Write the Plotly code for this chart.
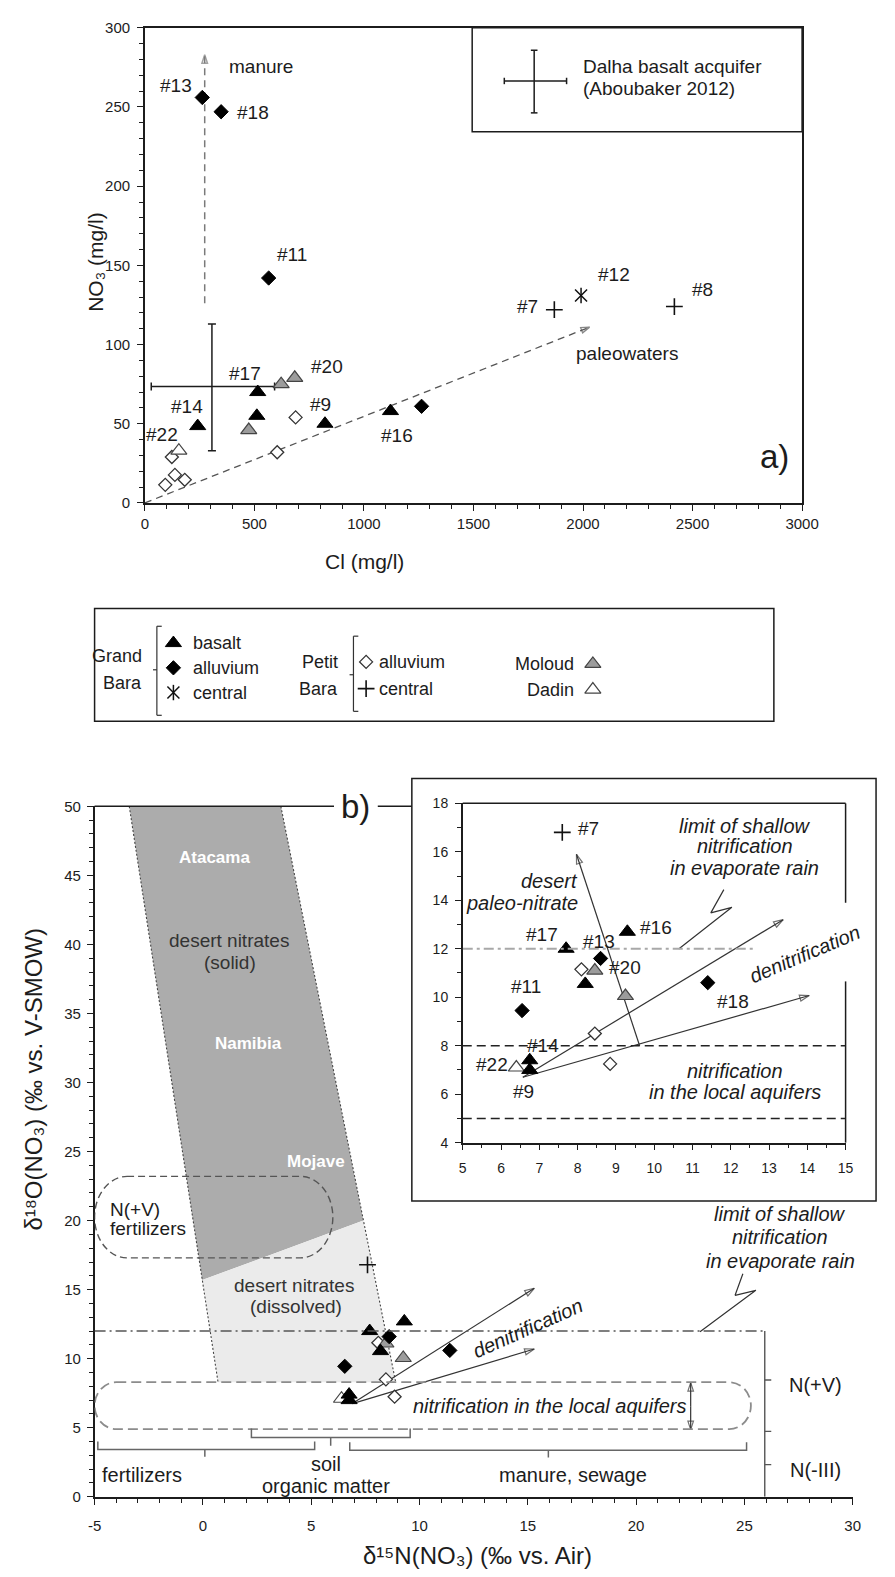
import plotly.graph_objects as go

W, H = 895, 1577
FONT = "Liberation Sans, Arial, Helvetica, DejaVu Sans, sans-serif"
INK = "#1c1c1c"

# ======================= DATA =======================
# ---- panel a) NO3 (mg/l) vs Cl (mg/l) ----
gb_basalt_cl = [515, 511, 241, 822, 1121]
gb_basalt_no3 = [70, 55, 48.5, 50, 58]
gb_basalt_id_a = ["#17", "", "#14", "#9", "#16"]

gb_alluvium_cl = [262, 348, 565, 1263]
gb_alluvium_no3 = [256, 247, 142, 61]
gb_alluvium_id_a = ["#13", "#18", "#11", ""]

gb_central_cl = [1991]
gb_central_no3 = [131]
gb_central_id_a = ["#12"]

pb_alluvium_cl = [688, 604, 123, 137, 182, 93]
pb_alluvium_no3 = [54, 32, 29, 17.7, 14.6, 11.4]
pb_alluvium_id_a = ["", "", "", "", "", ""]

pb_central_cl = [1869, 2417]
pb_central_no3 = [122, 124]
pb_central_id_a = ["#7", "#8"]

moloud_cl = [622, 684, 474]
moloud_no3 = [75, 79, 46]
moloud_id_a = ["", "#20", ""]

dadin_cl = [155]
dadin_no3 = [33]
dadin_id_a = ["#22"]

# Dalha basalt aquifer (Aboubaker 2012): mean and range
dalha_cl = [306]
dalha_cl_min, dalha_cl_max = 29, 592
dalha_no3 = [73.5]
dalha_no3_min, dalha_no3_max = 33, 113

# trend arrows of panel a)
manure_cl = [273, 273]
manure_no3 = [126, 283]
paleo_cl = [0, 2030]
paleo_no3 = [0, 111]

a_cl_ticks = [0, 500, 1000, 1500, 2000, 2500, 3000]
a_no3_ticks = [0, 50, 100, 150, 200, 250, 300]

# ---- panel b) d18O(NO3) vs d15N(NO3) ----
gb_basalt_d15n = [7.7, 9.3, 8.2, 6.75, 6.75]
gb_basalt_d18o = [12.0, 12.7, 10.55, 7.4, 7.0]
gb_basalt_id_b = ["#17", "#16", "", "#14", "#9"]

gb_alluvium_d15n = [8.6, 6.55, 11.4]
gb_alluvium_d18o = [11.6, 9.45, 10.6]
gb_alluvium_id_b = ["#13", "#11", "#18"]

pb_alluvium_d15n = [8.1, 8.45, 8.85]
pb_alluvium_d18o = [11.15, 8.5, 7.25]
pb_alluvium_id_b = ["", "", ""]

pb_central_d15n = [7.6]
pb_central_d18o = [16.8]
pb_central_id_b = ["#7"]

moloud_d15n = [8.45, 9.25]
moloud_d18o = [11.1, 10.05]
moloud_id_b = ["", "#20"]

dadin_d15n = [6.4]
dadin_d18o = [7.1]
dadin_id_b = ["#22"]

b_d15n_ticks = [-5, 0, 5, 10, 15, 20, 25, 30]
b_d15n_ticklabels = ["-5", "0", "5", "10", "15", "20", "25", "30"]
b_d18o_ticks = [0, 5, 10, 15, 20, 25, 30, 35, 40, 45, 50]
inset_d15n_ticks = [5, 6, 7, 8, 9, 10, 11, 12, 13, 14, 15]
inset_d18o_ticks = [4, 6, 8, 10, 12, 14, 16, 18]

# desert nitrate field (outline corners, d15N / d18O)
band_left_d15n = [-3.4, 0.7]
band_left_d18o = [50, 8.3]
band_right_d15n = [3.6, 8.9]
band_right_d18o = [50, 8.3]
solid_dissolved_d15n = [-0.03, 7.41]
solid_dissolved_d18o = [15.7, 20.0]

# source boxes and limits
fert_box_d15n = [-5, 6]
fert_box_d18o = [17.3, 23.2]
nitr_box_d15n = [-5, 25.3]
nitr_box_d18o = [4.9, 8.3]
limit_shallow_d18o = 12
scale_bar_d15n = 25.94
scale_ticks_d18o = [8.46, 4.74, 2.33]
inset_lines_d18o = [8, 5]
nitr_range_d15n = 22.52
nitr_range_d18o = [4.86, 8.27]

# trend arrows of panel b)  (start, end)
denit_main = [((6.9, 6.75), (15.3, 15.1)), ((6.9, 6.75), (15.3, 10.7))]
denit_inset = [((6.57, 6.7), (13.37, 13.2)), ((6.57, 6.7), (14.05, 10.07))]
paleo_inset = ((9.62, 8.0), (7.97, 15.9))
lightning_main_d15n = [24.93, 24.57, 25.53, 22.95]
lightning_main_d18o = [16.15, 14.59, 14.95, 11.95]
lightning_inset_d15n = [11.82, 11.48, 12.03, 10.64]
lightning_inset_d18o = [14.44, 13.48, 13.71, 11.99]

# brackets: (x_left, x_right, y_bar, y_ends, x_mid, y_mid)
brackets = [(-4.85, 5.16, 3.43, 4.0, 0.09, 2.9),
            (2.24, 9.57, 4.3, 4.95, 5.9, 3.7),
            (6.78, 25.1, 3.37, 3.95, 15.95, 2.85)]

# ======================= STYLES =======================
ST = {
    "gb_basalt": dict(symbol="triangle-up", size=14, color="black", line=dict(color="black", width=1)),
    "gb_alluvium": dict(symbol="diamond", size=11, color="black", line=dict(color="black", width=1)),
    "pb_alluvium": dict(symbol="diamond", size=10, color="white", line=dict(color="#333", width=1.3)),
    "moloud": dict(symbol="triangle-up", size=14, color="#9c9c9c", line=dict(color="#444", width=1.2)),
    "dadin": dict(symbol="triangle-up", size=14, color="white", line=dict(color="#444", width=1.2)),
    "pb_central": dict(symbol="cross-thin-open", size=12, color="#111", line=dict(color="#111", width=1.6)),
    "gb_central_x": dict(symbol="x-thin-open", size=12, color="#111", line=dict(color="#111", width=1.5)),
    "gb_central_l": dict(symbol="line-ns-open", size=11, color="#111", line=dict(color="#111", width=1.5)),
}
LBL = 19      # sample labels / plain texts
LEG = 18      # legend texts
ITL = 20      # italic process texts


def px(x):
    return x / W


def py(y):
    return 1 - y / H


fig = go.Figure()


def add_pts(x, y, style, xa, ya):
    fig.add_trace(go.Scatter(x=x, y=y, mode="markers", marker=ST[style],
                             xaxis=xa, yaxis=ya, hoverinfo="skip", showlegend=False, cliponaxis=False))


def add_line(x, y, xa, ya, color, width, dash=None):
    fig.add_trace(go.Scatter(x=x, y=y, mode="lines", line=dict(color=color, width=width, dash=dash),
                             xaxis=xa, yaxis=ya, showlegend=False, hoverinfo="skip", cliponaxis=False))


def add_arrow(x, y, xa, ya, color="#333", width=1.2, dash=None, size=10):
    fig.add_trace(go.Scatter(
        x=x, y=y, mode="lines+markers", line=dict(color=color, width=width, dash=dash),
        marker=dict(symbol="arrow-open", size=[0] * (len(x) - 1) + [size], angleref="previous",
                    color=color, line=dict(color=color, width=width)),
        xaxis=xa, yaxis=ya, showlegend=False, hoverinfo="skip", cliponaxis=False))


# ---------------- panel a) ----------------
fig.add_trace(go.Scatter(
    x=dalha_cl, y=dalha_no3, mode="markers", marker=dict(size=1, color="rgba(0,0,0,0)"),
    error_x=dict(type="data", symmetric=False, array=[dalha_cl_max - dalha_cl[0]],
                 arrayminus=[dalha_cl[0] - dalha_cl_min], color=INK, thickness=1.5, width=4),
    error_y=dict(type="data", symmetric=False, array=[dalha_no3_max - dalha_no3[0]],
                 arrayminus=[dalha_no3[0] - dalha_no3_min], color=INK, thickness=1.5, width=4),
    xaxis="x", yaxis="y", showlegend=False, hoverinfo="skip"))

add_arrow(manure_cl, manure_no3, "x", "y", "#7a7a7a", 1.5, "7px,5px", 9)
add_arrow(paleo_cl, paleo_no3, "x", "y", "#555", 1.3, "7px,5px", 9)

series_a = [
    (pb_alluvium_cl, pb_alluvium_no3, "pb_alluvium", pb_alluvium_id_a),
    (dadin_cl, dadin_no3, "dadin", dadin_id_a),
    (moloud_cl, moloud_no3, "moloud", moloud_id_a),
    (gb_basalt_cl, gb_basalt_no3, "gb_basalt", gb_basalt_id_a),
    (gb_alluvium_cl, gb_alluvium_no3, "gb_alluvium", gb_alluvium_id_a),
    (pb_central_cl, pb_central_no3, "pb_central", pb_central_id_a),
    (gb_central_cl, gb_central_no3, "gb_central_x", gb_central_id_a),
    (gb_central_cl, gb_central_no3, "gb_central_l", [""]),
]
for xs, ys, st, _ in series_a:
    add_pts(xs, ys, st, "x", "y")

# ---------------- panel b) main ----------------
dark_x = [band_left_d15n[0], solid_dissolved_d15n[0], solid_dissolved_d15n[1], band_right_d15n[0]]
dark_y = [band_left_d18o[0], solid_dissolved_d18o[0], solid_dissolved_d18o[1], band_right_d18o[0]]
fig.add_trace(go.Scatter(x=dark_x, y=dark_y, fill="toself", fillcolor="#acacac", mode="none",
                         xaxis="x2", yaxis="y2", showlegend=False, hoverinfo="skip"))
light_x = [solid_dissolved_d15n[0], solid_dissolved_d15n[1], band_right_d15n[1], band_left_d15n[1]]
light_y = [solid_dissolved_d18o[0], solid_dissolved_d18o[1], band_right_d18o[1], band_left_d18o[1]]
fig.add_trace(go.Scatter(x=light_x, y=light_y, fill="toself", fillcolor="#ebebeb", mode="none",
                         xaxis="x2", yaxis="y2", showlegend=False, hoverinfo="skip"))
for ex, ey in [(band_left_d15n, band_left_d18o), (band_right_d15n, band_right_d18o)]:
    add_line(ex, ey, "x2", "y2", "#444", 1.1, "2px,2px")

# lightning leader lines
add_line(lightning_main_d15n, lightning_main_d18o, "x2", "y2", "#333", 1.2)
add_line(lightning_inset_d15n, lightning_inset_d18o, "x3", "y3", "#333", 1.2)

# arrows panel b)
for st_, en_ in denit_main:
    add_arrow([st_[0], en_[0]], [st_[1], en_[1]], "x2", "y2")
mid = (nitr_range_d18o[0] + nitr_range_d18o[1]) / 2
for end in nitr_range_d18o:
    add_arrow([nitr_range_d15n, nitr_range_d15n], [mid, end], "x2", "y2", size=9)
for st_, en_ in denit_inset:
    add_arrow([st_[0], en_[0]], [st_[1], en_[1]], "x3", "y3")
add_arrow([paleo_inset[0][0], paleo_inset[1][0]], [paleo_inset[0][1], paleo_inset[1][1]], "x3", "y3")

series_b = [
    (pb_alluvium_d15n, pb_alluvium_d18o, "pb_alluvium", pb_alluvium_id_b),
    (dadin_d15n, dadin_d18o, "dadin", dadin_id_b),
    (moloud_d15n, moloud_d18o, "moloud", moloud_id_b),
    (gb_basalt_d15n, gb_basalt_d18o, "gb_basalt", gb_basalt_id_b),
    (gb_alluvium_d15n, gb_alluvium_d18o, "gb_alluvium", gb_alluvium_id_b),
    (pb_central_d15n, pb_central_d18o, "pb_central", pb_central_id_b),
]
for xs, ys, st, _ in series_b:
    add_pts(xs, ys, st, "x2", "y2")
    add_pts(xs, ys, st, "x3", "y3")

# ---------------- legend glyphs (pixel axis x4/y4) ----------------
legend_items = [
    ("gb_basalt", 171, 641), ("gb_alluvium", 171, 666), ("gb_central_x", 171, 691),
    ("gb_central_l", 171, 691), ("pb_alluvium", 369, 660), ("pb_central", 369, 687),
    ("moloud", 602, 662), ("dadin", 602, 688),
]
for st, lx, ly in legend_items:
    add_pts([lx], [ly], st, "x4", "y4")

# ======================= SHAPES =======================
shapes = []


def pline(x0, y0, x1, y1, color=INK, width=1.5, dash=None):
    shapes.append(dict(type="line", xref="paper", yref="paper", x0=px(x0), y0=py(y0), x1=px(x1), y1=py(y1),
                       line=dict(color=color, width=width, dash=dash), layer="above"))


def dline(x0, y0, x1, y1, xr, yr, color=INK, width=1.5, dash=None):
    shapes.append(dict(type="line", xref=xr, yref=yr, x0=x0, y0=y0, x1=x1, y1=y1,
                       line=dict(color=color, width=width, dash=dash), layer="above"))


def pill(xr, yr, xs, ys, rx, ry, color, width, dash):
    x0, x1 = xs
    y0, y1 = ys
    k = 0.5523
    p = (f"M{x0 + rx},{y1} L{x1 - rx},{y1} "
         f"C{x1 - rx + k * rx},{y1} {x1},{y1 - ry + k * ry} {x1},{y1 - ry} "
         f"L{x1},{y0 + ry} "
         f"C{x1},{y0 + ry - k * ry} {x1 - rx + k * rx},{y0} {x1 - rx},{y0} "
         f"L{x0 + rx},{y0} "
         f"C{x0 + rx - k * rx},{y0} {x0},{y0 + ry - k * ry} {x0},{y0 + ry} "
         f"L{x0},{y1 - ry} "
         f"C{x0},{y1 - ry + k * ry} {x0 + rx - k * rx},{y1} {x0 + rx},{y1} Z")
    shapes.append(dict(type="path", xref=xr, yref=yr, path=p, line=dict(color=color, width=width, dash=dash),
                       layer="above"))


# panel a) legend box (Dalha)
shapes.append(dict(type="rect", xref="paper", yref="paper", x0=px(478), y0=py(124), x1=px(817), y1=py(19),
                   line=dict(color=INK, width=1.5), fillcolor="white", layer="above"))
pline(511, 72.7, 575, 72.7)
pline(511, 69.5, 511, 76)
pline(575, 69.5, 575, 76)
pline(541.7, 41.7, 541.7, 105)
pline(538.3, 41.7, 545.1, 41.7)
pline(538.3, 105, 545.1, 105)

# symbol legend box
shapes.append(dict(type="rect", xref="paper", yref="paper", x0=px(90), y0=py(720), x1=px(788), y1=py(606),
                   line=dict(color=INK, width=1.5), layer="above"))
for bx, t, b, m in [(154, 624, 714, 668), (356, 634, 710, 673)]:
    pline(bx, t, bx, b, "#333", 1.2)
    pline(bx, t, bx + 5, t, "#333", 1.2)
    pline(bx, b, bx + 5, b, "#333", 1.2)
    pline(bx - 4, m, bx, m, "#333", 1.2)

# panel b) frame pieces
pline(90, 806, 336, 806)
pline(381, 806, 416, 806)
shapes.append(dict(type="rect", xref="paper", yref="paper", x0=px(416), y0=py(1205), x1=px(893), y1=py(778),
                   line=dict(color=INK, width=1.5), fillcolor="white", layer="below"))
pline(468.3, 803, 861.7, 803)
pline(861.7, 803, 861.7, 903.5)
pline(861.7, 983, 861.7, 1146)

# source pills
pill("x2", "y2", fert_box_d15n, fert_box_d18o, 1.5, 2.95, "#555", 1.4, "7px,4px")
pill("x2", "y2", nitr_box_d15n, nitr_box_d18o, 1.0, 1.7, "#8c8c8c", 1.8, "10px,5px")

# limit of shallow nitrification (main) and N scale bar
dline(-5, limit_shallow_d18o, scale_bar_d15n, limit_shallow_d18o, "x2", "y2", "#555", 1.4, "11px,4px,2px,4px")
dline(scale_bar_d15n, 0, scale_bar_d15n, limit_shallow_d18o, "x2", "y2", "#555", 1.4)
for tv in scale_ticks_d18o:
    dline(scale_bar_d15n, tv, scale_bar_d15n + 0.3, tv, "x2", "y2", "#555", 1.4)

# brackets of sources
for xl, xr_, yb, ye, xm, ym in brackets:
    p = f"M{xl},{ye} L{xl},{yb} L{xr_},{yb} L{xr_},{ye} M{xm},{yb} L{xm},{ym}"
    shapes.append(dict(type="path", xref="x2", yref="y2", path=p, line=dict(color="#666", width=1.5),
                       layer="above"))

# inset lines
dline(5, limit_shallow_d18o, 12.58, limit_shallow_d18o, "x3", "y3", "#a8a8a8", 2, "10px,4px,3px,4px")
for lv in inset_lines_d18o:
    dline(5, lv, 15, lv, "x3", "y3", "#222", 1.5, "9px,5px")

# ======================= ANNOTATIONS =======================
ann = []


def ptxt(x, y, s, size=LBL, color=INK, xanchor="center", angle=0, **kw):
    ann.append(dict(x=px(x), y=py(y), xref="paper", yref="paper", text=s, showarrow=False,
                    font=dict(family=FONT, size=size, color=color), xanchor=xanchor, yanchor="middle",
                    textangle=angle, **kw))


def dtxt(x, y, s, xr, yr, size=LBL, color=INK, xanchor="center", angle=0, **kw):
    ann.append(dict(x=x, y=y, xref=xr, yref=yr, text=s, showarrow=False,
                    font=dict(family=FONT, size=size, color=color), xanchor=xanchor, yanchor="middle",
                    textangle=angle, **kw))


# panel a) labels (pixel offsets from their points)
off_a = {"#13": (-26, 12), "#18": (32, -1), "#11": (23, 24), "#17": (-13, 19), "#20": (32, 11),
         "#14": (-11, 20), "#9": (-4, 19), "#22": (-17, 16), "#16": (7, -24), "#7": (-27, 3),
         "#12": (33, 21), "#8": (28, 17)}
for xs, ys, st, ids in series_a:
    for xv, yv, lab in zip(xs, ys, ids):
        if lab:
            dx, dy = off_a[lab]
            dtxt(xv, yv, lab, "x", "y", LBL, xshift=dx, yshift=dy)

off_b = {"#7": (26, 4), "#17": (-24, 14), "#13": (-2, 17), "#16": (29, 4), "#20": (0, 29),
         "#11": (4, 24), "#18": (25, -19), "#14": (13, 15), "#22": (-24, 3), "#9": (-6, -22)}
for xs, ys, st, ids in series_b:
    for xv, yv, lab in zip(xs, ys, ids):
        if lab:
            dx, dy = off_b[lab]
            dtxt(xv, yv, lab, "x3", "y3", LBL, xshift=dx, yshift=dy)

# panel a) texts
ptxt(261, 58, "manure")
ptxt(637, 348.3, "paleowaters")
ptxt(590, 58, "Dalha basalt acquifer", xanchor="left")
ptxt(590, 80, "(Aboubaker 2012)", xanchor="left")
ptxt(789, 452, "a)", 33)
ptxt(367, 559, "Cl (mg/l)", 21)
ptxt(91, 256, "NO₃ (mg/l)", 21, angle=-90)

# symbol legend texts
ptxt(141, 654, "Grand", LEG, xanchor="right")
ptxt(141, 681, "Bara", LEG, xanchor="right")
ptxt(189, 641, "basalt", LEG, xanchor="left")
ptxt(189, 666, "alluvium", LEG, xanchor="left")
ptxt(189, 691, "central", LEG, xanchor="left")
ptxt(342, 660, "Petit", LEG, xanchor="right")
ptxt(342, 687, "Bara", LEG, xanchor="right")
ptxt(380, 660, "alluvium", LEG, xanchor="left")
ptxt(380, 687, "central", LEG, xanchor="left")
ptxt(585, 662, "Moloud", LEG, xanchor="right")
ptxt(585, 688, "Dadin", LEG, xanchor="right")

# panel b) texts
ptxt(358, 806, "b)", 33, bgcolor="white")
ptxt(483, 1563, "δ¹⁵N(NO₃) (‰ vs. Air)", 24)
ptxt(27, 1082, "δ¹⁸O(NO₃) (‰ vs. V-SMOW)", 24, angle=-90)

dtxt(0.54, 46.3, "<b>Atacama</b>", "x2", "y2", 17, "white")
dtxt(1.2, 40.3, "desert nitrates", "x2", "y2", LBL, "#333")
dtxt(1.25, 38.7, "(solid)", "x2", "y2", LBL, "#333")
dtxt(2.1, 32.8, "<b>Namibia</b>", "x2", "y2", 17, "white")
dtxt(5.22, 24.3, "<b>Mojave</b>", "x2", "y2", 17, "white")
dtxt(4.2, 15.3, "desert nitrates", "x2", "y2", LBL, "#333")
dtxt(4.3, 13.75, "(dissolved)", "x2", "y2", LBL, "#333")
dtxt(-4.4, 20.8, "N(+V)", "x2", "y2", LBL, xanchor="left")
dtxt(-4.4, 19.4, "fertilizers", "x2", "y2", LBL, xanchor="left")
for yv, s in [(20.5, "limit of shallow"), (18.8, "nitrification"), (17.1, "in evaporate rain")]:
    dtxt(26.65, yv, f"<i>{s}</i>", "x2", "y2", ITL)
dtxt(15.02, 12.19, "<i>denitrification</i>", "x2", "y2", ITL, angle=-24)
dtxt(16.02, 6.54, "<i>nitrification in the local aquifers</i>", "x2", "y2", ITL)
dtxt(-2.83, 1.61, "fertilizers", "x2", "y2", 20)
dtxt(5.68, 2.4, "soil", "x2", "y2", 20)
dtxt(5.68, 0.77, "organic matter", "x2", "y2", 20)
dtxt(17.1, 1.61, "manure, sewage", "x2", "y2", 20)
dtxt(28.3, 8.1, "N(+V)", "x2", "y2", 20)
dtxt(28.3, 1.97, "N(-III)", "x2", "y2", 20)

# inset texts
for yv, s in [(17.07, "limit of shallow"), (16.23, "nitrification"), (15.35, "in evaporate rain")]:
    dtxt(12.37, yv, f"<i>{s}</i>", "x3", "y3", ITL)
dtxt(8.05, 14.8, "<i>desert</i>", "x3", "y3", ITL, xanchor="right")
dtxt(8.05, 13.9, "<i>paleo-nitrate</i>", "x3", "y3", ITL, xanchor="right")
dtxt(13.94, 11.77, "<i>denitrification</i>", "x3", "y3", ITL, angle=-23)
dtxt(12.12, 6.97, "<i>nitrification</i>", "x3", "y3", ITL)
dtxt(12.12, 6.09, "<i>in the local aquifers</i>", "x3", "y3", ITL)


# ======================= AXES =======================
def axis(**kw):
    d = dict(showgrid=False, zeroline=False, showline=True, linecolor=INK, linewidth=1.5,
             ticks="outside", ticklen=6, tickwidth=1.3, tickcolor=INK, tickmode="array",
             tickfont=dict(family=FONT, size=15, color=INK), layer="above traces")
    d.update(kw)
    return d


def minor(dt, t0, ln=4):
    return dict(dtick=dt, tick0=t0, ticks="outside", ticklen=ln, tickwidth=1, tickcolor=INK)


fig.update_layout(
    width=W, height=H, margin=dict(l=0, r=0, t=0, b=0),
    paper_bgcolor="white", plot_bgcolor="rgba(0,0,0,0)", showlegend=False,
    font=dict(family=FONT, color=INK),
    xaxis=axis(domain=[px(141.7), px(817)], range=[0, 3000], tickvals=a_cl_ticks, minor=minor(100, 0),
               mirror=True, anchor="y"),
    yaxis=axis(domain=[py(499.3), py(19)], range=[0, 300], tickvals=a_no3_ticks, minor=minor(10, 0),
               mirror=True, anchor="x", ticklabelstandoff=4),
    xaxis2=axis(domain=[px(90), px(869)], range=[-5, 30], tickvals=b_d15n_ticks, ticktext=b_d15n_ticklabels,
                minor=minor(1, -5), anchor="y2", ticklabelstandoff=8),
    yaxis2=axis(domain=[py(1504), py(806)], range=[0, 50], tickvals=b_d18o_ticks,
                minor=minor(1, 0), anchor="x2", ticklabelstandoff=3),
    xaxis3=axis(domain=[px(468.3), px(861.7)], range=[5, 15], tickvals=inset_d15n_ticks, minor=minor(0.5, 5),
                anchor="y3", ticklabelstandoff=6, tickfont=dict(family=FONT, size=14, color=INK)),
    yaxis3=axis(domain=[py(1146), py(803)], range=[4, 18], tickvals=inset_d18o_ticks, minor=minor(1, 4),
                anchor="x3", ticklabelstandoff=4, tickfont=dict(family=FONT, size=14, color=INK)),
    xaxis4=dict(domain=[0, 1], range=[0, W], visible=False, anchor="y4", fixedrange=True),
    yaxis4=dict(domain=[0, 1], range=[H, 0], visible=False, anchor="x4", fixedrange=True),
    shapes=shapes, annotations=ann,
)

fig.write_html("out.html")
